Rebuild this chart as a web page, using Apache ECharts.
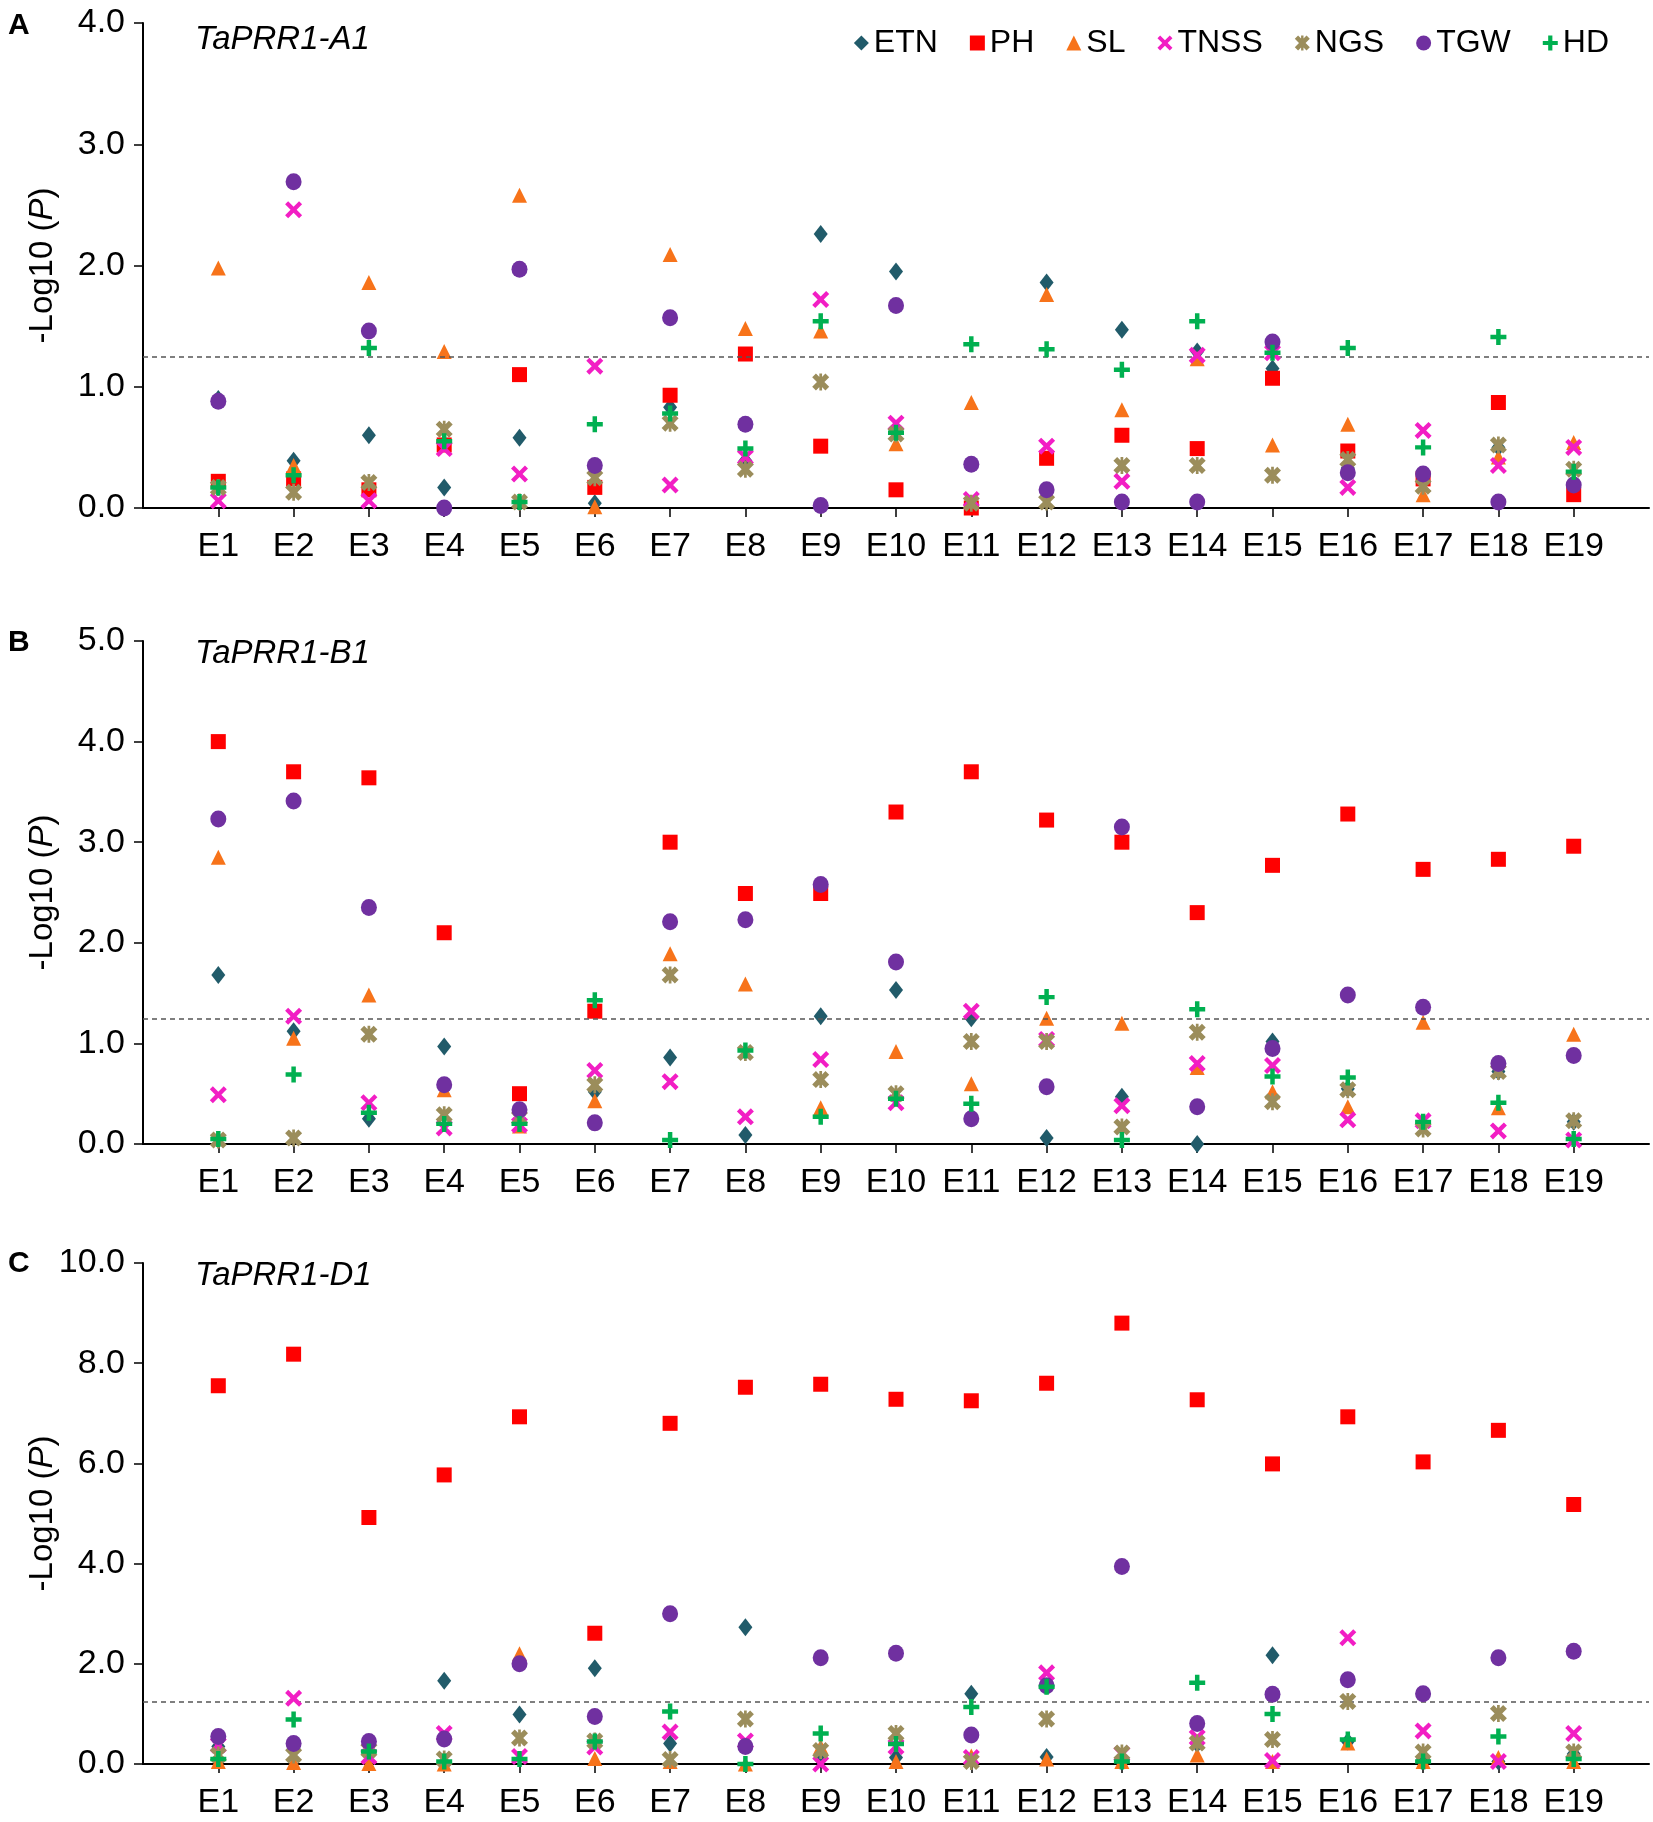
<!DOCTYPE html>
<html>
<head>
<meta charset="UTF-8">
<title>TaPRR1 association</title>
<script src="https://cdn.jsdelivr.net/npm/echarts@6/dist/echarts.min.js"></script>
<style>
  html, body { margin: 0; padding: 0; background: #fff; }
  #chart { width: 1653px; height: 1822px; }
</style>
</head>
<body>
<div id="chart"></div>
<script>
// environments
var envs = ['E1', 'E2', 'E3', 'E4', 'E5', 'E6', 'E7', 'E8', 'E9', 'E10',
            'E11', 'E12', 'E13', 'E14', 'E15', 'E16', 'E17', 'E18', 'E19'];
var threshold = 1.25;

// A - TaPRR1-A1
var etnA  = [0.90, 0.39, 0.60, 0.17, 0.58, 0.04, 0.83, 0.39, 2.26, 1.95, 0.03, 1.86, 1.47, 1.29, 1.15, 0.33, 0.25, 0.50, 0.20];
var phA   = [0.22, 0.24, 0.15, 0.52, 1.10, 0.17, 0.93, 1.27, 0.51, 0.15, 0.00, 0.41, 0.60, 0.49, 1.07, 0.47, 0.24, 0.87, 0.11];
var slA   = [1.98, 0.35, 1.86, 1.29, 2.58, 0.01, 2.09, 1.48, 1.46, 0.53, 0.87, 1.76, 0.81, 1.23, 0.52, 0.69, 0.11, 0.42, 0.54];
var tnssA = [0.06, 2.46, 0.06, 0.49, 0.28, 1.17, 0.19, 0.42, 1.72, 0.70, 0.07, 0.51, 0.22, 1.26, 1.28, 0.17, 0.64, 0.35, 0.50];
var ngsA  = [0.17, 0.13, 0.21, 0.65, 0.05, 0.25, 0.70, 0.32, 1.04, 0.61, 0.04, 0.05, 0.35, 0.35, 0.27, 0.40, 0.18, 0.52, 0.32];
var tgwA  = [0.88, 2.69, 1.46, 0.00, 1.97, 0.35, 1.57, 0.69, 0.02, 1.67, 0.36, 0.15, 0.05, 0.05, 1.37, 0.29, 0.28, 0.05, 0.19];
var hdA   = [0.17, 0.27, 1.32, 0.55, 0.05, 0.69, 0.78, 0.49, 1.54, 0.62, 1.35, 1.31, 1.14, 1.54, 1.28, 1.32, 0.50, 1.41, 0.30];

// B - TaPRR1-B1
var etnB  = [1.68, 1.12, 0.25, 0.97, 0.30, 0.52, 0.86, 0.09, 1.27, 1.53, 1.25, 0.06, 0.47, 0.00, 1.02, 0.55, 0.20, 0.72, 0.22];
var phB   = [4.00, 3.70, 3.64, 2.10, 0.50, 1.32, 3.00, 2.49, 2.49, 3.30, 3.70, 3.22, 3.00, 2.30, 2.77, 3.28, 2.73, 2.83, 2.96];
var slB   = [2.85, 1.05, 1.48, 0.54, 0.18, 0.43, 1.89, 1.59, 0.36, 0.92, 0.60, 1.25, 1.20, 0.76, 0.52, 0.37, 1.21, 0.36, 1.09];
var tnssB = [0.49, 1.27, 0.41, 0.16, 0.19, 0.73, 0.62, 0.27, 0.84, 0.41, 1.32, 1.04, 0.38, 0.80, 0.78, 0.24, 0.23, 0.13, 0.04];
var ngsB  = [0.04, 0.06, 1.09, 0.29, 0.26, 0.59, 1.68, 0.91, 0.64, 0.50, 1.02, 1.02, 0.17, 1.11, 0.42, 0.54, 0.15, 0.72, 0.23];
var tgwB  = [3.23, 3.41, 2.35, 0.59, 0.34, 0.21, 2.21, 2.23, 2.58, 1.81, 0.25, 0.57, 3.15, 0.37, 0.95, 1.48, 1.36, 0.80, 0.88];
var hdB   = [0.05, 0.69, 0.31, 0.20, 0.20, 1.43, 0.04, 0.93, 0.27, 0.45, 0.40, 1.46, 0.04, 1.34, 0.67, 0.66, 0.22, 0.41, 0.05];

// C - TaPRR1-D1
var etnC  = [0.35, 0.30, 0.20, 1.66, 0.99, 1.91, 0.41, 2.73, 0.10, 0.13, 1.40, 0.14, 0.05, 0.40, 2.17, 0.45, 0.10, 0.05, 0.20];
var phC   = [7.55, 8.18, 4.92, 5.77, 6.93, 2.61, 6.80, 7.52, 7.58, 7.28, 7.25, 7.60, 8.80, 7.27, 5.99, 6.93, 6.03, 6.66, 5.18];
var slC   = [0.05, 0.03, 0.01, 0.00, 2.20, 0.11, 0.05, 0.00, 0.35, 0.05, 0.16, 0.10, 0.05, 0.18, 0.05, 0.42, 0.05, 0.13, 0.05];
var tnssC = [0.38, 1.31, 0.15, 0.61, 0.15, 0.34, 0.64, 0.46, 0.00, 0.35, 0.13, 1.82, 0.20, 0.53, 0.07, 2.52, 0.66, 0.05, 0.61];
var ngsC  = [0.18, 0.18, 0.28, 0.10, 0.52, 0.46, 0.09, 0.90, 0.27, 0.61, 0.05, 0.90, 0.22, 0.42, 0.49, 1.25, 0.24, 1.01, 0.24];
var tgwC  = [0.55, 0.41, 0.45, 0.50, 2.00, 0.95, 3.00, 0.35, 2.12, 2.21, 0.58, 1.56, 3.94, 0.81, 1.39, 1.68, 1.40, 2.12, 2.25];
var hdC   = [0.10, 0.89, 0.25, 0.05, 0.10, 0.45, 1.05, 0.00, 0.61, 0.40, 1.14, 1.54, 0.05, 1.62, 1.00, 0.49, 0.05, 0.55, 0.10];

var FONT = "'Liberation Sans', Arial, sans-serif";

// marker shapes
var xPath = 'path://M0,1.8 L1.8,0 L5,3.2 L8.2,0 L10,1.8 L6.8,5 L10,8.2 L8.2,10 L5,6.8 L1.8,10 L0,8.2 L3.2,5 Z';
var starPath = 'path://M0,2.2 L2.2,0 L5,2.8 L7.8,0 L10,2.2 L7.2,5 L10,7.8 L7.8,10 L5,7.2 L2.2,10 L0,7.8 L2.8,5 Z M4.2,0 L5.8,0 L5.8,10 L4.2,10 Z';
var plusPath = 'path://M3.6,0 L6.4,0 L6.4,3.6 L10,3.6 L10,6.4 L6.4,6.4 L6.4,10 L3.6,10 L3.6,6.4 L0,6.4 L0,3.6 L3.6,3.6 Z';

var traits = [
  { name: 'ETN',  symbol: 'diamond',  size: [14, 18], color: '#215B6A' },
  { name: 'PH',   symbol: 'rect',     size: 15,       color: '#FF0000' },
  { name: 'SL',   symbol: 'triangle', size: [15, 15], color: '#F7731A' },
  { name: 'TNSS', symbol: xPath,      size: 17,       color: '#F21EC4' },
  { name: 'NGS',  symbol: starPath,   size: 17,       color: '#9B8D5B' },
  { name: 'TGW',  symbol: 'circle',   size: [16, 17], color: '#7030A0' },
  { name: 'HD',   symbol: plusPath,   size: 16,       color: '#00B050' }
];

var panels = [
  { letter: 'A', gene: 'TaPRR1-A1', top: 23,   height: 485, max: 4,  interval: 1,
    letterTop: 6, geneTop: 18,
    values: [etnA, phA, slA, tnssA, ngsA, tgwA, hdA] },
  { letter: 'B', gene: 'TaPRR1-B1', top: 641,  height: 503, max: 5,  interval: 1,
    letterTop: 623, geneTop: 632,
    values: [etnB, phB, slB, tnssB, ngsB, tgwB, hdB] },
  { letter: 'C', gene: 'TaPRR1-D1', top: 1263, height: 501, max: 10, interval: 2,
    letterTop: 1244, geneTop: 1254,
    values: [etnC, phC, slC, tnssC, ngsC, tgwC, hdC] }
];

// padded category list so E1..E19 sit one slot in from both ends
var xCats = [''].concat(envs, ['']);

var grids = [], xAxes = [], yAxes = [], series = [], titles = [];

panels.forEach(function (p, k) {
  grids.push({ left: 143, width: 1506, top: p.top, height: p.height });
  xAxes.push({
    type: 'category', gridIndex: k, data: xCats, boundaryGap: false,
    axisLine: { lineStyle: { color: '#000', width: 2 } },
    axisTick: { show: true, length: 9, lineStyle: { color: '#000', width: 1.5 },
                interval: function (i) { return i > 0 && i < xCats.length - 1; } },
    axisLabel: { fontFamily: FONT, fontSize: 34, color: '#000', margin: 22, interval: 0 },
    splitLine: { show: false }
  });
  yAxes.push({
    type: 'value', gridIndex: k, min: 0, max: p.max, interval: p.interval,
    name: '-Log10 ({i|P})', nameLocation: 'middle', nameGap: 84, nameRotate: 90,
    nameMoveOverlap: false,
    nameTextStyle: { fontFamily: FONT, fontSize: 33, color: '#000',
                     rich: { i: { fontFamily: FONT, fontSize: 33, fontStyle: 'italic', color: '#000' } } },
    axisLine: { show: true, lineStyle: { color: '#000', width: 2 } },
    axisTick: { show: true, length: 9, lineStyle: { color: '#000', width: 1.5 } },
    axisLabel: { fontFamily: FONT, fontSize: 34, color: '#000', margin: 18,
                 formatter: function (v) { return v.toFixed(1); } },
    splitLine: { show: false }
  });
  titles.push({ text: p.letter, left: 3, top: p.letterTop,
                textStyle: { fontFamily: FONT, fontSize: 30, fontWeight: 'bold', color: '#000' } });
  titles.push({ text: p.gene, left: 190, top: p.geneTop,
                textStyle: { fontFamily: FONT, fontSize: 33, fontStyle: 'italic', fontWeight: 'normal', color: '#000' } });

  traits.forEach(function (t, j) {
    var s = {
      name: t.name, type: 'scatter', xAxisIndex: k, yAxisIndex: k,
      symbol: t.symbol, symbolSize: t.size,
      itemStyle: { color: t.color, opacity: 1 },
      data: p.values[j].map(function (v, i) { return [envs[i], v]; }),
      z: 2 + j
    };
    if (j === 0) {
      s.markLine = {
        silent: true, symbol: 'none', animation: false,
        label: { show: false },
        lineStyle: { color: '#555', width: 1.5, type: [5, 4] },
        data: [{ yAxis: threshold }]
      };
    }
    series.push(s);
  });
});

var chart = echarts.init(document.getElementById('chart'));
chart.setOption({
  animation: false,
  backgroundColor: '#fff',
  title: titles,
  legend: {
    data: traits.map(function (t) { return t.name; }),
    right: 44, top: 27, padding: 0, itemGap: 32, itemWidth: 15, itemHeight: 15,
    textStyle: { fontFamily: FONT, fontSize: 32, color: '#000' }
  },
  grid: grids,
  xAxis: xAxes,
  yAxis: yAxes,
  series: series
});
</script>
</body>
</html>
